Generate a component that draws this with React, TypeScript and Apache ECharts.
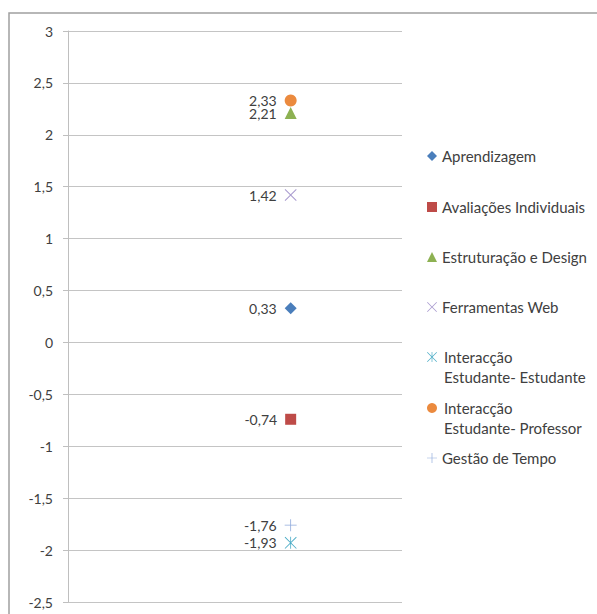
import React, { useEffect, useRef } from "react";
import * as echarts from "echarts";

const seriesNames = [
  "Aprendizagem",
  "Avaliações Individuais",
  "Estruturação e Design",
  "Ferramentas Web",
  "Interacção Estudante- Estudante",
  "Interacção Estudante- Professor",
  "Gestão de Tempo",
];
const legendLines = [
  ["Aprendizagem"],
  ["Avaliações Individuais"],
  ["Estruturação e Design"],
  ["Ferramentas Web"],
  ["Interacção", "Estudante- Estudante"],
  ["Interacção", "Estudante- Professor"],
  ["Gestão de Tempo"],
];
const values = [0.33, -0.74, 2.21, 1.42, -1.93, 2.33, -1.76];
const xPosition = 1;
const yTicks = { min: -2.5, max: 3, interval: 0.5 };

const colors = ["#4A7EBB", "#BE4B48", "#8DB152", "#A99BCF", "#4BACC6", "#EB8A3E", "#8FAADC"];
const X_PATH = "path://M0,0.7 L0.7,0 L6,5.3 L11.3,0 L12,0.7 L6.7,6 L12,11.3 L11.3,12 L6,6.7 L0.7,12 L0,11.3 L5.3,6 Z";
const STAR_PATH =
  "path://M0,0.6 L0.6,0 L12,11.4 L11.4,12 Z M11.4,0 L12,0.6 L0.6,12 L0,11.4 Z M5.6,0 L6.4,0 L6.4,12 L5.6,12 Z";
const PLUS_PATH = "path://M0,5.6 L12,5.6 L12,6.4 L0,6.4 Z M5.6,0 L6.4,0 L6.4,12 L5.6,12 Z";
const symbols = ["diamond", "rect", "triangle", X_PATH, STAR_PATH, "circle", PLUS_PATH];
const symbolSizes = [12, 11, 12, 12, 12, 12, 12];
const legendIconCenters = [156, 207, 257, 307, 357, 408, 458];

const FONT = "Lato, 'Open Sans', sans-serif";
const TEXT = "#404040";

export default function App() {
  const ref = useRef<HTMLDivElement>(null);
  useEffect(() => {
    if (!ref.current) return;
    const chart = echarts.init(ref.current, undefined, { renderer: "svg" });
    const fmt = (v: number) => String(v).replace(".", ",");
    const LH = 20;
    const legends = seriesNames.map((name, i) => {
      const lines = legendLines[i];
      const multi = lines.length > 1;
      return {
        orient: "vertical",
        left: 427,
        top: legendIconCenters[i] - (multi ? LH * 1.5 : 8),
        padding: 0,
        itemWidth: 10,
        itemHeight: 10,
        itemGap: 0,
        selectedMode: false,
        data: [{ name, icon: symbols[i] }],
        formatter: () =>
          multi ? "{g| }\n" + lines.map((l) => "{t|" + l + "}").join("\n") : lines[0],
        textStyle: {
          fontFamily: FONT,
          fontSize: 15,
          color: TEXT,
          lineHeight: multi ? LH : 16,
          rich: {
            g: { fontSize: 15, lineHeight: LH, fontFamily: FONT },
            t: { fontSize: 15, lineHeight: LH, fontFamily: FONT, color: TEXT, padding: [0, 0, 0, 2] },
          },
        },
      };
    });
    chart.setOption({
      animation: false,
      backgroundColor: "#ffffff",
      graphic: [
        {
          type: "rect",
          silent: true,
          z: -1,
          shape: { x: 9, y: 13, width: 640, height: 640 },
          style: { fill: "none", stroke: "#A0A0A0", lineWidth: 1.5 },
        },
      ],
      grid: { left: 68, top: 31, right: 195, bottom: 12, containLabel: false, outerBoundsMode: "none" },
      xAxis: {
        type: "value",
        min: 0,
        max: 1.5,
        show: false,
        splitLine: { show: false },
      },
      yAxis: {
        type: "value",
        min: yTicks.min,
        max: yTicks.max,
        interval: yTicks.interval,
        axisLine: { show: true, lineStyle: { color: "#BFBFBF", width: 1 } },
        axisTick: { show: true, length: 5, lineStyle: { color: "#BFBFBF" } },
        axisLabel: { margin: 15, fontFamily: FONT, fontSize: 14, color: TEXT, formatter: fmt },
        splitLine: { show: true, lineStyle: { color: "#C4C4C4", width: 1 } },
      },
      legend: legends,
      series: seriesNames.map((name, i) => ({
        name,
        type: "scatter",
        symbol: symbols[i],
        symbolSize: symbolSizes[i],
        itemStyle: { color: colors[i], opacity: 1 },
        data: [[xPosition, values[i]]],
        label: {
          show: true,
          position: "left",
          distance: 8,
          fontFamily: FONT,
          fontSize: 14,
          lineHeight: 12,
          color: TEXT,
          formatter: (p: any) => p.value[1].toFixed(2).replace(".", ","),
        },
      })),
    });
    return () => chart.dispose();
  }, []);
  return <div ref={ref} style={{ position: "absolute", left: 0, top: 0, width: 597, height: 614 }} />;
}
